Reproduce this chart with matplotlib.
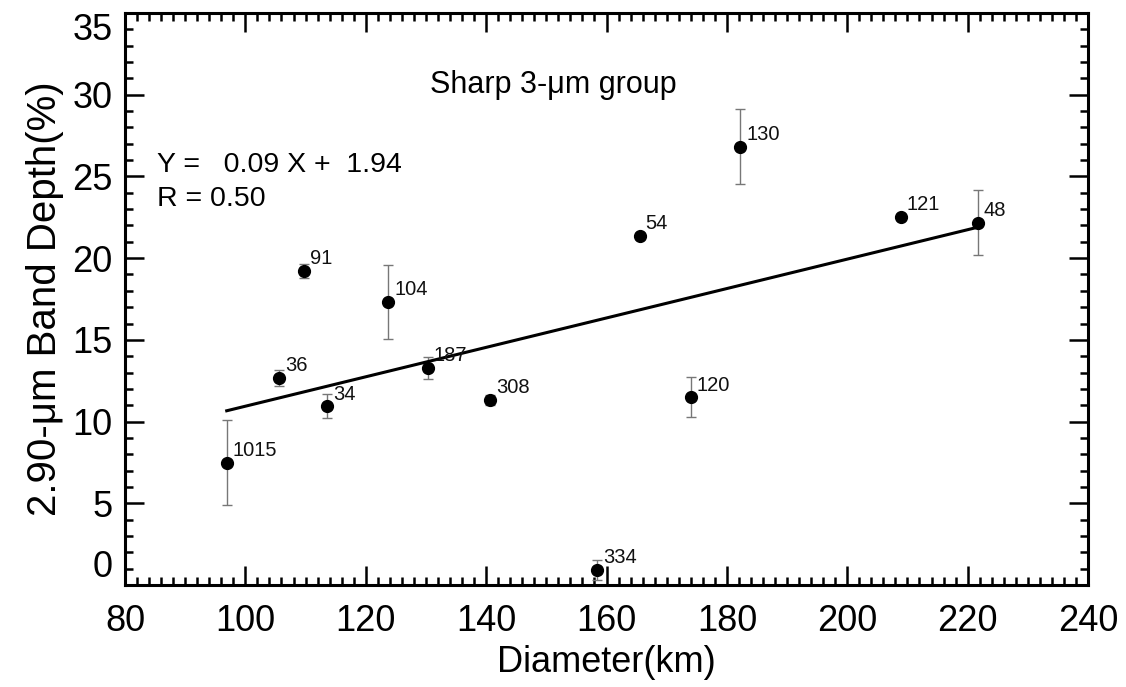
import matplotlib
matplotlib.use("Agg")
import matplotlib.pyplot as plt
from matplotlib.ticker import MultipleLocator
import numpy as np

plt.rcParams['font.family'] = ['Liberation Sans', 'DejaVu Sans']

# Data
names = ["1015", "36", "91", "34", "104", "187", "308", "334", "54", "120", "130", "121", "48"]
diameter = [96.9, 105.6, 109.7, 113.6, 123.7, 130.3, 140.6, 158.4, 165.5, 174.0, 182.2, 208.9, 221.7]
band_depth = [7.47, 12.67, 19.22, 10.95, 17.32, 13.28, 11.32, 0.92, 21.36, 11.5, 26.83, 22.54, 22.17]
band_err = [2.6, 0.5, 0.45, 0.75, 2.25, 0.7, 0.3, 0.6, 0.2, 1.2, 2.3, 0.0, 2.0]

slope = 0.09
intercept = 1.94
r_value = 0.50

x_ticks = [80, 100, 120, 140, 160, 180, 200, 220, 240]
y_ticks = [0, 5, 10, 15, 20, 25, 30, 35]

fig = plt.figure(figsize=(11.26, 6.87), dpi=100)
ax = fig.add_axes([125/1126, 1 - 585/687, (1088 - 125)/1126, (585 - 13)/687])

ax.errorbar(diameter, band_depth, yerr=band_err, fmt='none', ecolor='#777777',
            elinewidth=1.0, capsize=3.8, capthick=1.0, zorder=2)
ax.plot(diameter, band_depth, 'o', color='black', markersize=8.5, zorder=3)

xfit = np.array([min(diameter), max(diameter)])
ax.plot(xfit, slope * xfit + intercept, color='black', linewidth=2.2, zorder=2)

for n, xv, yv in zip(names, diameter, band_depth):
    ax.annotate(n, (xv, yv), xytext=(6, 12), textcoords='offset pixels',
                fontsize=14.5, ha='left', va='center', color='#111111')

ax.text(151.1, 30.6, "Sharp 3-\u03bcm group", fontsize=22, ha='center', va='center')
ax.text(85.3, 25.7, "Y =   %.2f X +  %.2f" % (slope, intercept), fontsize=20.5, ha='left', va='center')
ax.text(85.3, 23.6, "R = %.2f" % r_value, fontsize=20.5, ha='left', va='center')

ax.set_xlim(80, 240)
ax.set_ylim(0, 35)
ax.set_xticks(x_ticks)
ax.set_yticks(y_ticks)
ax.xaxis.set_minor_locator(MultipleLocator(2))
ax.yaxis.set_minor_locator(MultipleLocator(1))
ax.tick_params(which='both', direction='in', top=True, right=True, width=1.8, labelsize=26)
ax.tick_params(which='major', length=14)
ax.tick_params(which='minor', length=6)
ax.tick_params(axis='x', which='major', pad=14)
ax.tick_params(axis='y', which='major', pad=9)
for s in ax.spines.values():
    s.set_linewidth(2.2)

ylabs = ax.get_yticklabels()
ylabs[0].set_va('bottom')
ylabs[-1].set_va('top')

ax.set_xlabel("Diameter(km)", fontsize=26, labelpad=4)
ax.set_ylabel("2.90-\u03bcm Band Depth(%)", fontsize=29, labelpad=6)

fig.savefig("out.png", dpi=100)
